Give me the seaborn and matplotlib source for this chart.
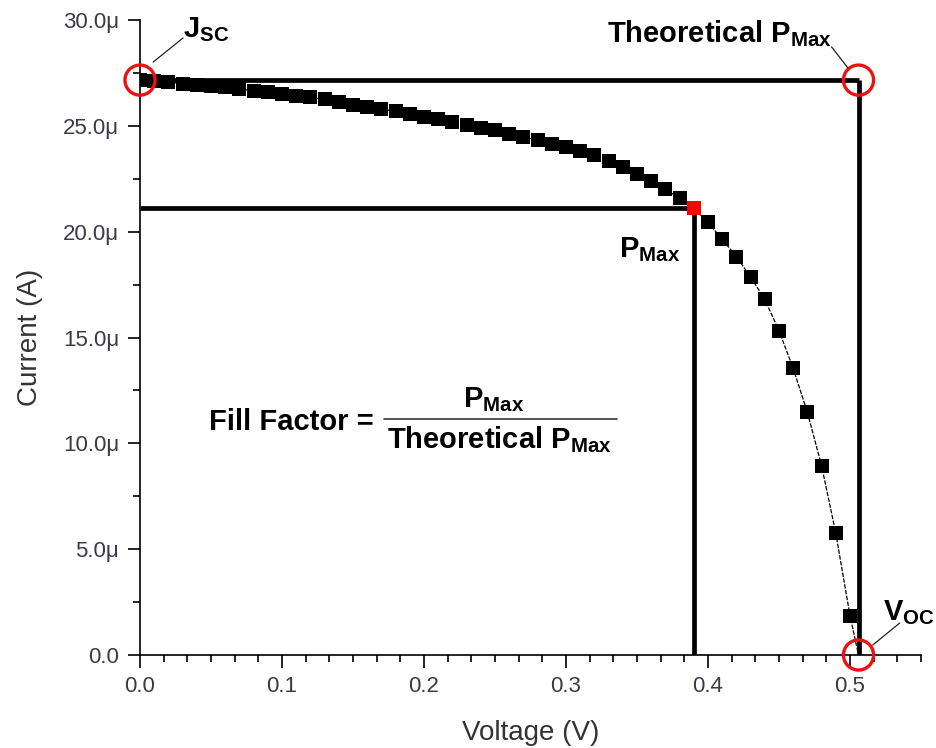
import matplotlib
matplotlib.use("Agg")
import matplotlib.pyplot as plt
from matplotlib.ticker import MultipleLocator, FuncFormatter
import pandas as pd
import seaborn as sns

# Measured I-V sweep of the cell (voltage in V, current in microamps)
voltage_v = [0.00, 0.01, 0.02, 0.03, 0.04, 0.05, 0.06, 0.07, 0.08, 0.09,
             0.10, 0.11, 0.12, 0.13, 0.14, 0.15, 0.16, 0.17, 0.18, 0.19,
             0.20, 0.21, 0.22, 0.23, 0.24, 0.25, 0.26, 0.27, 0.28, 0.29,
             0.30, 0.31, 0.32, 0.33, 0.34, 0.35, 0.36, 0.37, 0.38, 0.39,
             0.40, 0.41, 0.42, 0.43, 0.44, 0.45, 0.46, 0.47, 0.48, 0.49,
             0.50]
current_ua = [27.16, 27.10, 27.05, 27.00, 26.94, 26.88, 26.82, 26.74, 26.66, 26.58,
              26.50, 26.42, 26.34, 26.26, 26.12, 26.00, 25.90, 25.80, 25.68, 25.56,
              25.44, 25.33, 25.20, 25.06, 24.92, 24.78, 24.62, 24.48, 24.32, 24.16,
              24.00, 23.82, 23.60, 23.34, 23.04, 22.72, 22.38, 22.00, 21.58, 21.10,
              20.44, 19.64, 18.82, 17.86, 16.80, 15.32, 13.54, 11.46, 8.94, 5.75,
              1.86]

# Characteristic points of the curve
jsc_ua = 27.16      # short-circuit current
voc_v = 0.506       # open-circuit voltage
vmp_v = 0.39        # voltage at maximum power
imp_ua = 21.10      # current at maximum power

x_ticks = [0.0, 0.1, 0.2, 0.3, 0.4, 0.5]
y_ticks = [0.0, 5.0, 10.0, 15.0, 20.0, 25.0, 30.0]

sns.set_style("ticks")
plt.rcParams["font.family"] = ["Liberation Sans", "DejaVu Sans"]
plt.rcParams["mathtext.fontset"] = "custom"
plt.rcParams["mathtext.rm"] = "Liberation Sans"
plt.rcParams["mathtext.bf"] = "Liberation Sans:bold"
plt.rcParams["mathtext.it"] = "Liberation Sans:italic"

df = pd.DataFrame({"Voltage": voltage_v, "Current": current_ua})
is_mp = df["Voltage"].round(4) == round(vmp_v, 4)

fig = plt.figure(figsize=(9.36, 7.48), dpi=100)
ax = fig.add_axes([140 / 936, 93 / 748, 781 / 936, 635 / 748])

# thin connecting trace, closing at Voc
trace = pd.DataFrame({"Voltage": voltage_v + [voc_v], "Current": current_ua + [0.0]})
sns.lineplot(data=trace, x="Voltage", y="Current", sort=False, ax=ax,
             color="black", linewidth=0.9, dashes=False, zorder=2)
ax.lines[-1].set_linestyle((0, (3.5, 1.2)))

# construction lines for Jsc / Voc rectangle and the Pmax rectangle
heavy = dict(color="black", linewidth=3.4, solid_capstyle="butt", zorder=3)
ax.plot([0, voc_v], [jsc_ua, jsc_ua], **heavy)
ax.plot([voc_v, voc_v], [jsc_ua, 0], **heavy)
ax.plot([0, vmp_v], [imp_ua, imp_ua], **heavy)
ax.plot([vmp_v, vmp_v], [imp_ua, 0], **heavy)

# measured points
sns.scatterplot(data=df[~is_mp], x="Voltage", y="Current", marker="s", s=108,
                color="black", linewidth=0, ax=ax, zorder=4)
sns.scatterplot(data=df[is_mp], x="Voltage", y="Current", marker="s", s=108,
                color="#ff0000", linewidth=0, ax=ax, zorder=5)

# red rings on the key points
ax.scatter([0, voc_v, voc_v], [jsc_ua, jsc_ua, 0], s=470, facecolors="none",
           edgecolors="#ee1111", linewidths=2.4, clip_on=False, zorder=6)

# labels and leader lines
lab = dict(fontsize=21, fontweight="bold", color="black", va="baseline", ha="left")
ax.text(0.030, 29.2, r"J$_{\mathbf{SC}}$", **lab)
ax.plot([0.0303, 0.0092], [29.15, 28.01], color="#222222", lw=0.9, clip_on=False, zorder=6)

ax.text(0.329, 28.96, r"Theoretical P$_{\mathbf{Max}}$", **lab)
ax.plot([0.487, 0.4986], [28.73, 27.73], color="#222222", lw=0.9, clip_on=False, zorder=6)

ax.text(0.5232, 1.65, r"V$_{\mathbf{OC}}$", clip_on=False, **lab)
ax.plot([0.535, 0.516], [1.51, 0.47], color="#222222", lw=0.9, clip_on=False, zorder=6)

ax.text(0.337, 18.81, r"P$_{\mathbf{Max}}$", **lab)

# fill factor definition
ax.text(0.0488, 10.63, "Fill Factor =", **lab)
ax.text(0.2272, 11.73, r"P$_{\mathbf{Max}}$", **lab)
ax.plot([0.1718, 0.336], [11.13, 11.13], color="#333333", lw=1.2, zorder=3)
ax.text(0.1737, 9.76, r"Theoretical P$_{\mathbf{Max}}$", **lab)

# axes
ax.set_xlim(0, 0.55)
ax.set_ylim(0, 30)
ax.set_xticks(x_ticks)
ax.set_yticks(y_ticks)
ax.xaxis.set_minor_locator(MultipleLocator(0.1 / 6))
ax.yaxis.set_minor_locator(MultipleLocator(2.5))
ax.xaxis.set_major_formatter(FuncFormatter(lambda v, p: f"{v:.1f}"))
ax.yaxis.set_major_formatter(FuncFormatter(lambda v, p: "0.0" if abs(v) < 1e-9 else f"{v:.1f}\u03bc"))

for side in ("top", "right"):
    ax.spines[side].set_visible(False)
for side in ("left", "bottom"):
    ax.spines[side].set_linewidth(1.2)
    ax.spines[side].set_color("black")

ax.tick_params(axis="both", which="major", direction="out", length=9, width=1.2,
               color="black", labelsize=16, labelcolor="#3a3a48", pad=6)
ax.tick_params(axis="both", which="minor", direction="out", length=5, width=1.2,
               color="black")

ax.set_xlabel("Voltage (V)", fontsize=20, color="#333333")
ax.set_ylabel("Current (A)", fontsize=20, color="#333333")
ax.xaxis.set_label_coords(0.5, -0.102)
ax.yaxis.set_label_coords(-0.124, 0.5)

fig.savefig("out.png", dpi=100)
